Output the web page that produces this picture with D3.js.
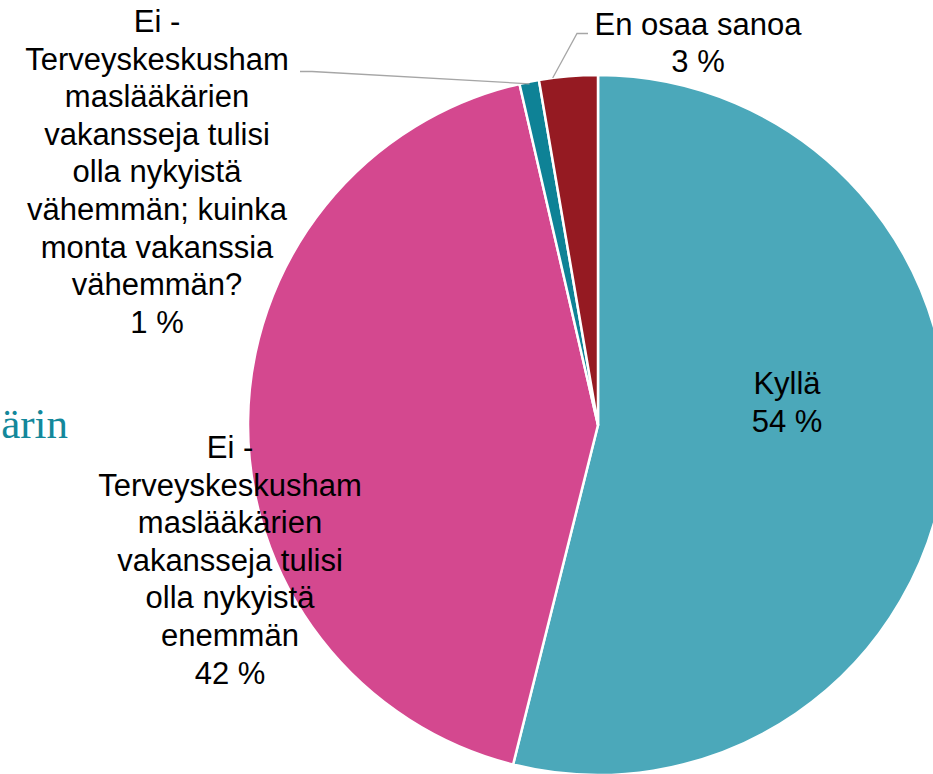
<!DOCTYPE html>
<html lang="fi">
<head>
  <meta charset="UTF-8">
  <title>Terveyskeskushammaslääkärien vakanssit</title>
  <script src="https://d3js.org/d3.v7.min.js"></script>
  <style>
    body { margin: 0; padding: 0; background: #fff; overflow: hidden; }
    svg { display: block; }
    .lbl { font-family: "Liberation Sans", Arial, sans-serif; font-size: 31px; fill: #000; }
  </style>
</head>
<body>
<svg width="933" height="774"></svg>
<script>
  // answer categories, clockwise from 12 o'clock
  const categories = ["Kyllä",
    "Ei - Terveyskeskushammaslääkärien vakansseja tulisi olla nykyistä enemmän",
    "Ei - Terveyskeskushammaslääkärien vakansseja tulisi olla nykyistä vähemmän; kuinka monta vakanssia vähemmän?",
    "En osaa sanoa"];
  const shares = [53.9, 42.5, 0.9, 2.7];
  const shareLabels = ["54 %", "42 %", "1 %", "3 %"];
  const colors = ["#4ba8ba", "#d4488f", "#0e8296", "#951a22"];

  // wrapped label lines as in the original
  const labelLines = [
    ["Kyllä"],
    ["Ei -", "Terveyskeskusham", "maslääkärien", "vakansseja tulisi", "olla nykyistä", "enemmän"],
    ["Ei -", "Terveyskeskusham", "maslääkärien", "vakansseja tulisi", "olla nykyistä", "vähemmän; kuinka", "monta vakanssia", "vähemmän?"],
    ["En osaa sanoa"]
  ];

  const svg = d3.select("svg");
  const cx = 598, cy = 425, r = 350;

  // background slide text peeking in from the left
  svg.append("text")
    .attr("x", 68).attr("y", 438)
    .attr("text-anchor", "end")
    .attr("font-family", "'Liberation Serif', 'Times New Roman', serif")
    .attr("font-size", 43)
    .attr("fill", "#13889b")
    .text("ärin");

  const pie = d3.pie().sort(null).value(d => d).startAngle(0).endAngle(2 * Math.PI);
  const arcs = pie(shares);
  const arc = d3.arc().innerRadius(0).outerRadius(r);

  const g = svg.append("g").attr("transform", `translate(${cx},${cy})`);
  g.selectAll("path").data(arcs).join("path")
    .attr("d", arc)
    .attr("fill", (d, i) => colors[i])
    .attr("stroke", "#fff")
    .attr("stroke-width", 2.5)
    .attr("stroke-linejoin", "round");

  // label anchors: centre x and first baseline
  const labelPos = [
    { x: 787, y: 394 },
    { x: 230, y: 458 },
    { x: 157, y: 32 },
    { x: 698, y: 34.5 }
  ];
  const lineH = 37.6;

  categories.forEach((c, i) => {
    const t = svg.append("text").attr("class", "lbl")
      .attr("text-anchor", "middle");
    const lines = labelLines[i].concat([shareLabels[i]]);
    lines.forEach((ln, j) => {
      t.append("tspan")
        .attr("x", labelPos[i].x)
        .attr("y", labelPos[i].y + j * lineH)
        .text(ln);
    });
  });

  // leader lines to the two thin slices
  const pt = (a, rr) => [cx + rr * Math.sin(a), cy - rr * Math.cos(a)];
  const mid = d => (d.startAngle + d.endAngle) / 2;
  const leader = d3.line();
  const a2 = pt(mid(arcs[2]), r - 2);
  const a3 = pt(mid(arcs[3]) - 0.045, r);
  svg.append("path")
    .attr("d", leader([[300, 71.5], [312, 71.5], a2]))
    .attr("fill", "none").attr("stroke", "#a6a6a6").attr("stroke-width", 1.3);
  svg.append("path")
    .attr("d", leader([a3, [577, 33.5], [588, 33.5]]))
    .attr("fill", "none").attr("stroke", "#a6a6a6").attr("stroke-width", 1.3);
</script>
</body>
</html>
